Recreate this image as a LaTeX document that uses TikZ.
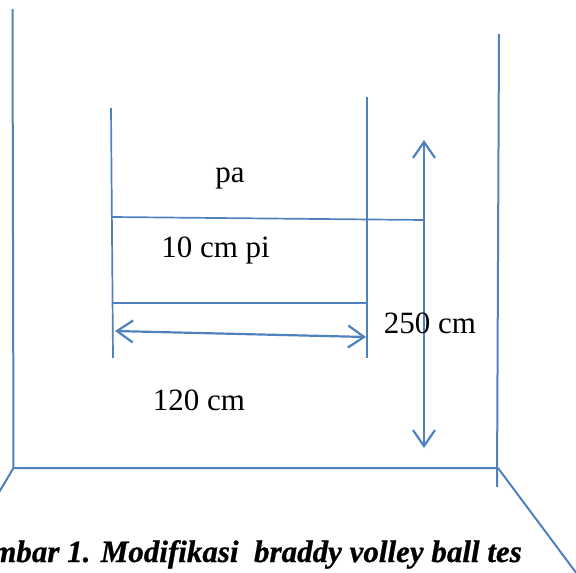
\documentclass[tikz,border=0pt]{standalone}
\usepackage{fontspec}
\setmainfont{Liberation Serif}
\newfontface\capfont{Liberation Serif Bold Italic}[FakeBold=0.8]
\usetikzlibrary{arrows.meta}
\definecolor{lineblue}{HTML}{4F81BD}
\begin{document}
\begin{tikzpicture}[x=1pt,y=-1pt,
  wall/.style={draw=lineblue,line width=2pt},
  dimarrow/.style={draw=lineblue,line width=2.2pt,
    {Straight Barb[length=16pt,width=22pt,line width=2.2pt]}-{Straight Barb[length=16pt,width=22pt,line width=2.2pt]}},
  lbl/.style={inner sep=0pt,anchor=base,font=\fontsize{31}{36}\selectfont},
  captext/.style={inner sep=0pt,anchor=base east,font=\fontsize{31}{36}\capfont}]
\useasboundingbox (0,0) rectangle (576,573);
\clip (0,0) rectangle (576,573);
% room
\coordinate (lwtop) at (12.5,9);
\coordinate (lwbot) at (13.5,468);
\coordinate (rwtop) at (499,34);
\coordinate (rwbot) at (497,487);
\coordinate (rfl) at (498,468);
\coordinate (ldiag) at (-8,504);
\coordinate (rdiag) at (580,578);
\draw[wall] (lwtop) -- (lwbot) -- (rfl);
\draw[wall] (rwtop) -- (rwbot);
\draw[wall] (lwbot) -- (ldiag);
\draw[wall] (rfl) -- (rdiag);
% target frame
\coordinate (lptop) at (111,108);
\coordinate (lpbot) at (113,358);
\coordinate (rptop) at (367,97);
\coordinate (rpbot) at (367,358);
\coordinate (tl) at (112,217);
\coordinate (tr) at (424,220);
\coordinate (bl) at (113,303);
\coordinate (br) at (367,303);
\draw[wall,line width=1.7pt] (lptop) -- (lpbot);
\draw[wall,line width=1.7pt] (rptop) -- (rpbot);
\draw[wall,line width=1.7pt] (tl) -- (tr);
\draw[wall,line width=1.7pt] (bl) -- (br);
% dimension arrows
\coordinate (ha) at (115,331);
\coordinate (hb) at (366,337);
\coordinate (va) at (424,140);
\coordinate (vb) at (424,448);
\draw[dimarrow] (ha) -- (hb);
\draw[dimarrow] (va) -- (vb);
% labels
\node[lbl] (pa) at (230,182) {pa};
\node[lbl] (pi) at (215.5,257) {10 cm pi};
\node[lbl] (h) at (430,333) {250 cm};
\node[lbl] (w) at (199,410) {120 cm};
\node[captext] (caption) at (522,562) {Gambar 1. Modifikasi\ \ braddy volley ball tes};
\end{tikzpicture}
\end{document}
